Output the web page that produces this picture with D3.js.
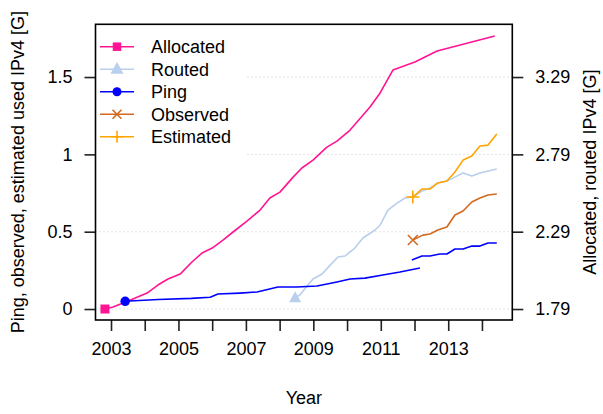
<!DOCTYPE html>
<html><head><meta charset="utf-8">
<script src="https://cdn.jsdelivr.net/npm/d3@7/dist/d3.min.js"></script>
<style>
html,body{margin:0;padding:0;background:#fff;}
text{font-family:"Liberation Sans",Arial,Helvetica,sans-serif;fill:#000;}
</style></head>
<body><svg id="c" width="603" height="414"></svg>
<script>
// ---- data (years, values in G) ----
const allocYears = [2002.82,2003.06,2003.36,2003.65,2004.07,2004.39,2004.69,2005.05,2005.40,2005.70,2006.00,2006.32,2006.62,2007.03,2007.42,2007.71,2008.01,2008.40,2008.66,2008.99,2009.40,2009.70,2010.09,2010.68,2010.98,2011.36,2012.01,2012.67,2014.38];
const allocVals  = [1.790,1.803,1.829,1.855,1.893,1.945,1.984,2.016,2.094,2.152,2.184,2.236,2.288,2.359,2.430,2.508,2.546,2.643,2.702,2.753,2.837,2.876,2.947,3.096,3.187,3.335,3.387,3.458,3.555];

const routedYears = [2008.46,2008.60,2008.84,2008.99,2009.26,2009.50,2009.73,2009.94,2010.23,2010.47,2010.83,2010.98,2011.21,2011.48,2011.72,2011.95,2012.22,2012.46,2012.69,2012.96,2013.20,2013.44,2013.70,2013.94,2014.44];
const routedVals  = [1.861,1.881,1.945,1.984,2.016,2.074,2.126,2.133,2.184,2.249,2.301,2.333,2.430,2.475,2.508,2.514,2.553,2.572,2.605,2.618,2.643,2.669,2.650,2.669,2.695];

const pingYears = [2003.42,2004.40,2005.38,2005.94,2006.17,2006.82,2007.33,2007.95,2008.51,2009.11,2009.70,2010.09,2010.53,2011.06,2011.57,2012.16,
                   2011.92,2012.22,2012.46,2012.75,2012.96,2013.20,2013.44,2013.70,2013.94,2014.18,2014.44];
const pingVals  = [0.050,0.062,0.069,0.076,0.097,0.103,0.110,0.142,0.142,0.149,0.175,0.194,0.200,0.220,0.239,0.265,
                   0.317,0.343,0.343,0.356,0.356,0.388,0.388,0.407,0.407,0.427,0.427];
const pingBreakAfter = 15; // index where first ping segment ends

const obsYears = [2011.95,2012.25,2012.46,2012.69,2012.96,2013.20,2013.44,2013.70,2013.94,2014.18,2014.44];
const obsVals  = [0.446,0.478,0.485,0.511,0.530,0.608,0.634,0.692,0.718,0.737,0.744];

const estYears = [2011.95,2012.22,2012.46,2012.69,2012.96,2013.20,2013.44,2013.70,2013.94,2014.18,2014.44];
const estVals  = [0.724,0.776,0.776,0.815,0.828,0.886,0.963,0.989,1.054,1.060,1.131];

const xTicks = [2003,2004,2005,2006,2007,2008,2009,2010,2011,2012,2013,2014];
const xTickLabels = ["2003","","2005","","2007","","2009","","2011","","2013",""];
const yTicks = [0,0.5,1,1.5];
const yTickLabels = ["0","0.5","1","1.5"];
const yRTicks = [1.79,2.29,2.79,3.29];
const yRTickLabels = ["1.79","2.29","2.79","3.29"];
const offsetR = 1.79;

const legendNames = ["Allocated","Routed","Ping","Observed","Estimated"];
const colors = {Allocated:"#ff1493",Routed:"#b9cfec",Ping:"#0000ff",Observed:"#d2691e",Estimated:"#ffa500"};

// ---- layout ----
const L=95.5,R=512.3,T=24.3,B=320;
const svg=d3.select("#c");
const x=d3.scaleLinear().domain([2002.54,2014.90]).range([L,R]);
const y=d3.scaleLinear().domain([-0.071,1.841]).range([B,T]);
const yR=d3.scaleLinear().domain([-0.071+offsetR,1.841+offsetR]).range([B,T]);

// gridlines
svg.append("g").selectAll("line").data(yTicks).join("line")
  .attr("x1",L).attr("x2",R).attr("y1",d=>y(d)).attr("y2",d=>y(d))
  .attr("stroke","#c8c8c8").attr("stroke-width",1).attr("stroke-dasharray","1,3");

// axes
const fs="18px";
const gx=svg.append("g").attr("transform",`translate(0,${B})`)
  .call(d3.axisBottom(x).tickValues(xTicks).tickFormat((d,i)=>xTickLabels[i]).tickSize(11).tickPadding(24));
const gy=svg.append("g").attr("transform",`translate(${L},0)`)
  .call(d3.axisLeft(y).tickValues(yTicks).tickFormat((d,i)=>yTickLabels[i]).tickSize(11).tickPadding(12));
const gr=svg.append("g").attr("transform",`translate(${R},0)`)
  .call(d3.axisRight(yR).tickValues(yRTicks).tickFormat((d,i)=>yRTickLabels[i]).tickSize(11).tickPadding(12));
[gx,gy,gr].forEach(g=>{
  g.select(".domain").remove();
  g.selectAll(".tick line").attr("stroke","#222").attr("stroke-width",1.6);
  g.selectAll(".tick text").attr("font-size",fs).attr("font-family",'"Liberation Sans",Arial,sans-serif');
});
gx.selectAll(".tick text").attr("dy","0");

// lines
const line=d3.line().x(d=>x(d[0])).y(d=>d[2]?yR(d[1]):y(d[1])).defined(d=>d!==null);
const plot=svg.append("g");
function drawLine(years,vals,color,right){
  const pts=years.map((yr,i)=>[yr,vals[i],right]);
  plot.append("path").attr("d",line(pts)).attr("fill","none").attr("stroke",color).attr("stroke-width",1.6).attr("stroke-linejoin","round");
}
drawLine(allocYears,allocVals,colors.Allocated,true);
drawLine(routedYears,routedVals,colors.Routed,true);
drawLine(pingYears.slice(0,pingBreakAfter+1),pingVals.slice(0,pingBreakAfter+1),colors.Ping,false);
drawLine(pingYears.slice(pingBreakAfter+1),pingVals.slice(pingBreakAfter+1),colors.Ping,false);
drawLine(obsYears,obsVals,colors.Observed,false);
drawLine(estYears,estVals,colors.Estimated,false);

// markers
function marker(g,type,cx,cy,s,color){
  if(type==="Allocated") g.append("rect").attr("x",cx-s/2).attr("y",cy-s/2).attr("width",s).attr("height",s).attr("fill",color);
  else if(type==="Routed"){const h=s*0.9;g.append("path").attr("d",`M${cx},${cy-h*0.62}L${cx+s/2},${cy+h*0.38}L${cx-s/2},${cy+h*0.38}Z`).attr("fill",color);}
  else if(type==="Ping") g.append("circle").attr("cx",cx).attr("cy",cy).attr("r",s/2).attr("fill",color);
  else if(type==="Observed") g.append("path").attr("d",`M${cx-s/2},${cy-s/2}L${cx+s/2},${cy+s/2}M${cx-s/2},${cy+s/2}L${cx+s/2},${cy-s/2}`).attr("stroke",color).attr("stroke-width",1.6);
  else g.append("path").attr("d",`M${cx-s/2},${cy}L${cx+s/2},${cy}M${cx},${cy-s/2}L${cx},${cy+s/2}`).attr("stroke",color).attr("stroke-width",1.6);
}
marker(plot,"Allocated",x(allocYears[0]),yR(allocVals[0]),9,colors.Allocated);
marker(plot,"Routed",x(routedYears[0]),yR(routedVals[0]),12,colors.Routed);
marker(plot,"Ping",x(pingYears[0]),y(pingVals[0]),9.5,colors.Ping);
marker(plot,"Observed",x(obsYears[0]),y(obsVals[0]),10,colors.Observed);
marker(plot,"Estimated",x(estYears[0]),y(estVals[0]),13,colors.Estimated);

// legend
const lg=svg.append("g");
lg.append("rect").attr("x",L+1).attr("y",T+1).attr("width",245-L-1).attr("height",135).attr("fill","#fff");
const rowY=[46.7,69.3,91.7,114.3,136.7];
const mSize={Allocated:8.5,Routed:13,Ping:9,Observed:9,Estimated:12};
legendNames.forEach((n,i)=>{
  lg.append("line").attr("x1",100).attr("x2",134).attr("y1",rowY[i]).attr("y2",rowY[i]).attr("stroke",colors[n]).attr("stroke-width",1.6);
  marker(lg,n,117,rowY[i],mSize[n],colors[n]);
  lg.append("text").attr("x",151).attr("y",rowY[i]).attr("dy","0.35em").attr("font-size",fs).text(n);
});

// box
svg.append("rect").attr("x",L).attr("y",T).attr("width",R-L).attr("height",B-T).attr("fill","none").attr("stroke","#000").attr("stroke-width",1.6);

// axis titles
svg.append("text").attr("x",(L+R)/2).attr("y",404).attr("text-anchor","middle").attr("font-size",fs).text("Year");
svg.append("text").attr("transform",`translate(24,${(T+B)/2}) rotate(-90)`).attr("text-anchor","middle").attr("font-size",fs).text("Ping, observed, estimated used IPv4 [G]");
svg.append("text").attr("transform",`translate(596,${(T+B)/2}) rotate(-90)`).attr("text-anchor","middle").attr("font-size",fs).text("Allocated, routed IPv4 [G]");
</script></body></html>
